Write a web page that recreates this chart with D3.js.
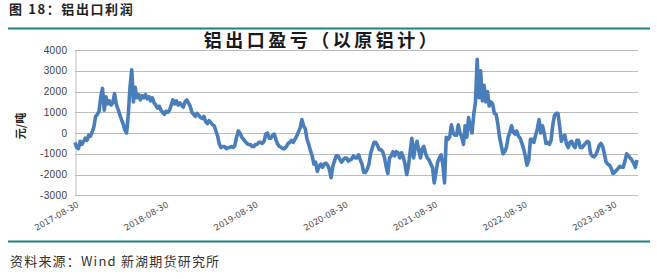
<!DOCTYPE html>
<html><head><meta charset="utf-8">
<script src="https://cdn.jsdelivr.net/npm/d3@7"></script>
<style>
html,body{margin:0;padding:0;background:#fff;}
svg{display:block;}
</style></head>
<body>
<svg id="c" width="657" height="279"></svg>
<script>
// ---- data (weekly readings, starting 2017-08-30) ----
const startDate = "2017-08-30";
const endDate = "2023-12-10";
const profit = [
 -450,-700,-750,-400,-550,-400,-250,-350,-100,-150,
 50,300,800,900,1050,1750,2150,1100,1750,1400,
 1550,1350,1450,1900,1400,1150,900,650,450,150,
 0,900,2200,3050,1500,2200,1700,1850,1600,1800,
 1700,1850,1650,1750,1550,1700,1450,1350,1200,1300,
 1100,1000,900,1050,1000,1100,1350,1600,1400,1550,
 1350,1450,1350,1250,1500,1600,1450,1300,1000,900,
 800,950,850,750,700,800,550,450,600,500,
 400,350,100,-150,-550,-700,-650,-650,-750,-700,
 -700,-650,-700,-600,-200,100,0,-200,-300,-400,
 -500,-550,-550,-650,-650,-550,-550,-450,-450,-500,
 -400,-50,0,-250,-250,-100,-50,-350,-550,-650,
 -700,-750,-750,-650,-500,-450,-350,-450,-300,-150,
 50,250,650,350,200,-300,-550,-850,-1100,-1500,
 -1400,-1850,-1600,-1500,-1650,-1500,-1450,-1550,-1750,-2150,
 -1600,-1350,-1100,-1100,-1250,-1400,-1300,-1200,-1200,-1350,
 -1300,-1250,-1100,-1200,-1200,-1050,-1300,-1500,-1900,-1900,
 -1750,-1500,-1000,-700,-450,-450,-600,-800,-800,-900,
 -1150,-1600,-1950,-1200,-1100,-900,-1100,-900,-950,-1200,
 -950,-1150,-1500,-2000,-1600,-900,-250,-1200,-650,-400,
 -850,-1200,-750,-650,-1000,-1200,-1300,-1500,-1650,-2400,
 -1900,-1400,-1200,-1050,-1500,-2400,-200,-300,-200,400,
 0,-100,-100,400,0,-200,-550,350,-200,750,
 300,0,900,1500,3550,1700,3000,1550,2300,1500,
 2000,1300,1500,1400,950,900,450,-200,-600,-1000,
 -900,-700,-200,50,350,50,-50,100,-150,-250,
 -500,-750,-1100,-1550,-1300,-300,-300,-450,-100,200,
 650,0,350,0,-500,-450,-550,-350,400,850,
 950,950,300,-400,-200,-100,-550,-700,-450,-400,
 -600,-700,-350,-350,-700,-700,-600,-500,-400,-450,
 -1000,-1100,-1150,-1050,-850,-600,-500,-650,-1000,-1400,
 -1500,-1550,-1700,-1950,-1900,-1800,-1700,-1600,-1650,-1650,
 -1350,-1000,-1100,-1200,-1300,-1450,-1650,-1300
];
const xTickLabels = ["2017-08-30","2018-08-30","2019-08-30","2020-08-30","2021-08-30","2022-08-30","2023-08-30"];
const yTicks = [4000,3000,2000,1000,0,-1000,-2000,-3000];
const figureTitle = "图 18：铝出口利润";
const chartTitle = "铝出口盈亏（以原铝计）";
const yLabel = "元/吨";
const sourceText = "资料来源：Wind 新湖期货研究所";

// ---- drawing ----
const parse = d3.timeParse("%Y-%m-%d");
const t0 = parse(startDate);
const series = profit.map((v, i) => ({date: d3.timeDay.offset(t0, 7 * i), value: v}));

const svg = d3.select("#c");
const L = 75, R = 638, T = 50, B = 195.3;
const x = d3.scaleTime().domain([t0, parse(endDate)]).range([L, R]);
const y = d3.scaleLinear().domain([-3000, 4000]).range([B, T]);

const CJK = "'Noto Sans CJK SC','Noto Sans',sans-serif";

// header
svg.append("text").attr("x", 9).attr("y", 14)
  .attr("font-family", CJK).attr("font-size", 13).attr("font-weight", "bold")
  .attr("letter-spacing", 1.6).attr("fill", "#222").text(figureTitle);
svg.append("line").attr("x1", 8).attr("x2", 650).attr("y1", 28.5).attr("y2", 28.5)
  .attr("stroke", "#1f8080").attr("stroke-width", 2);

// chart title
svg.append("text").attr("x", 322).attr("y", 47).attr("text-anchor", "middle")
  .attr("font-family", CJK).attr("font-size", 18).attr("font-weight", "bold")
  .attr("letter-spacing", 3.5).attr("fill", "#1a1a1a").text(chartTitle);

// gridlines
svg.append("g").selectAll("line").data(yTicks).join("line")
  .attr("x1", L).attr("x2", R)
  .attr("y1", d => Math.round(y(d)) + 0.5).attr("y2", d => Math.round(y(d)) + 0.5)
  .attr("stroke", "#bdbdbd").attr("stroke-width", 1);

// y axis
const yAxis = svg.append("g").attr("transform", `translate(${L + 0.5},0)`)
  .call(d3.axisLeft(y).tickValues(yTicks).tickSize(0).tickPadding(8).tickFormat(d => String(d)));
yAxis.select(".domain").attr("stroke", "#bdbdbd");
yAxis.selectAll("text").attr("font-family", "'Liberation Sans',Arial,sans-serif")
  .attr("font-size", 10).attr("letter-spacing", 0.4).attr("fill", "#404040");

// y label
svg.append("text").attr("transform", "translate(25,126) rotate(-90)")
  .attr("text-anchor", "middle").attr("font-family", CJK).attr("font-size", 11)
  .attr("font-weight", "bold").attr("fill", "#222").text(yLabel);

// x axis labels
const xAxis = svg.append("g").attr("transform", `translate(0,${B})`)
  .call(d3.axisBottom(x).tickValues(xTickLabels.map(parse)).tickSize(0).tickFormat(d3.timeFormat("%Y-%m-%d")));
xAxis.select(".domain").remove();
xAxis.selectAll("text")
  .attr("font-family", "'DejaVu Sans',sans-serif").attr("font-size", 8.5).attr("fill", "#505050")
  .attr("text-anchor", "end").attr("dy", 0).attr("y", 0)
  .attr("transform", "translate(4,11) rotate(-30)");

// line
svg.append("path").datum(series)
  .attr("fill", "none").attr("stroke", "#4a7ebb").attr("stroke-width", 3.6)
  .attr("stroke-linejoin", "round")
  .attr("d", d3.line().x(d => x(d.date)).y(d => y(d.value)));

// footer
svg.append("line").attr("x1", 8).attr("x2", 650).attr("y1", 241.5).attr("y2", 241.5)
  .attr("stroke", "#1f8080").attr("stroke-width", 2);
svg.append("text").attr("x", 10).attr("y", 266)
  .attr("font-family", CJK).attr("font-size", 13).attr("letter-spacing", 1.2)
  .attr("fill", "#333").text(sourceText);
</script>
</body></html>
